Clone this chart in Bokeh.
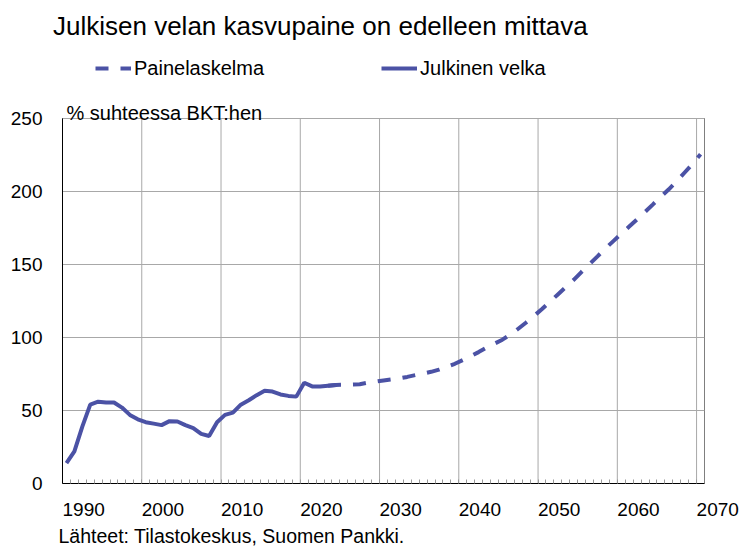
from bokeh.plotting import figure
from bokeh.models import Range1d, FixedTicker, Title, Legend, LegendItem, Label
from bokeh.embed import file_html
from bokeh.resources import INLINE

# ---- texts ----
TITLE = "Julkisen velan kasvupaine on edelleen mittava"
Y_TITLE = "% suhteessa BKT:hen"
SOURCE = "Lähteet: Tilastokeskus, Suomen Pankki."
LEGEND_PROJ = "Painelaskelma"
LEGEND_DEBT = "Julkinen velka"

# ---- data ----
hist_years = list(range(1990, 2025))
hist_debt = [14, 22, 39, 54, 56, 55.5, 55.5, 52, 47, 44,
             42, 41, 40, 42.7, 42.5, 40, 38, 34, 32.5, 42,
             47, 48.5, 54, 57, 60.5, 63.5, 63, 61, 60, 59.5,
             69, 66.5, 66.5, 67, 67.5]

proj_years = list(range(2023, 2071))
proj_debt = [67, 67.5, 67.6, 67.8, 68, 69, 69.8,
             70.6, 71.3, 72, 73, 74.2, 75.3, 76.5, 78, 80, 82,
             84.5, 87.2, 90, 93, 95.8, 98.5, 102, 106, 110.3, 114.8,
             119.5, 124.5, 129.5, 134.5, 139.5, 145, 150.3, 155.6, 161, 166,
             171, 176, 181, 186, 191.2, 196.5, 201.5, 207, 213, 219,
             225.5]

x_tick_years = [1990, 2000, 2010, 2020, 2030, 2040, 2050, 2060, 2070]
x_tick_labels = ["1990", "2000", "2010", "2020", "2030", "2040", "2050", "2060", "2070"]
y_ticks = [0, 50, 100, 150, 200, 250]

FONT = "Liberation Sans"
BLUE = "#4B52A5"
GRID = "#a8a8a8"

# geometry: the plotting box is 365 px tall for 0..250; the frame is extended
# upwards so that legend and unit text sit inside it (not clipped)
BOX_H = 365
FRAME_H = 437
X0, X1 = x_tick_years[0] - 0.5, x_tick_years[-1] + 0.5
Y_MAX = y_ticks[-1]
Y_END = Y_MAX * FRAME_H / BOX_H

p = figure(frame_width=642, frame_height=FRAME_H, output_backend="svg",
           toolbar_location=None, title=None,
           x_range=Range1d(X0, X1), y_range=Range1d(0, Y_END),
           min_border_left=62, min_border_right=36,
           min_border_top=46, min_border_bottom=66)
p.background_fill_color = "white"
p.border_fill_color = "white"
p.outline_line_color = None

# category boundaries (Excel-style category axis); labels start at a boundary
bounds = [yr - 0.5 for yr in x_tick_years]
minor = [yr + 0.5 for yr in range(x_tick_years[0], x_tick_years[-1])]

xa = p.xaxis[0]
xa.ticker = FixedTicker(ticks=bounds, minor_ticks=minor)
xa.major_label_overrides = {t: lab for t, lab in zip(bounds, x_tick_labels)}
xa.major_label_orientation = -0.0001   # numeric angle -> left-aligned labels
xa.major_tick_in = 0
xa.major_tick_out = 0
xa.minor_tick_in = 4
xa.minor_tick_out = 0
xa.minor_tick_line_color = "#999999"
xa.axis_line_color = "black"
xa.major_label_standoff = 26
xa.major_label_text_font = FONT
xa.major_label_text_font_size = "19px"
xa.major_label_text_color = "black"

ya = p.yaxis[0]
ya.ticker = FixedTicker(ticks=y_ticks)
ya.bounds = (0, Y_MAX)
ya.major_tick_in = 0
ya.major_tick_out = 0
ya.minor_tick_line_color = None
ya.axis_line_color = "black"
ya.major_label_standoff = 20
ya.major_label_text_font = FONT
ya.major_label_text_font_size = "19px"
ya.major_label_text_color = "black"

p.xgrid.visible = False
p.ygrid.ticker = FixedTicker(ticks=y_ticks)
p.ygrid.grid_line_color = GRID

# vertical grid lines limited to the plotting box
p.segment(x0=bounds, y0=[0] * len(bounds), x1=bounds, y1=[Y_MAX] * len(bounds),
          line_color=GRID, line_width=1, level="underlay")
# box border (top and right; left/bottom come from the axes)
p.quad(left=[X0], right=[X1], bottom=[0], top=[Y_MAX],
       fill_alpha=0, line_color="black", line_width=1, level="underlay")

r_proj = p.line(proj_years, proj_debt, line_color=BLUE, line_width=4,
                line_dash="13 12")
r_hist = p.line(hist_years, hist_debt, line_color=BLUE, line_width=4)

legend = Legend(items=[LegendItem(label=LEGEND_PROJ, renderers=[r_proj]),
                       LegendItem(label=LEGEND_DEBT, renderers=[r_hist])],
                orientation="horizontal", location=(33, 403),
                glyph_width=36, glyph_height=24, label_height=24,
                label_standoff=3, spacing=117, padding=0, margin=0,
                border_line_alpha=0, background_fill_alpha=0,
                label_text_font=FONT, label_text_font_size="20px",
                label_text_color="black")
p.add_layout(legend)

p.add_layout(Label(x=4, y=370.3, x_units="screen", y_units="screen", text=Y_TITLE,
                   text_font=FONT, text_font_size="20px", text_color="black",
                   text_align="left", text_baseline="alphabetic"))


def make_title(text, size, offset, standoff, valign):
    return Title(text=text, align="left", offset=offset, standoff=standoff,
                 vertical_align=valign, text_font=FONT, text_font_size=size,
                 text_font_style="normal", text_color="black")


p.add_layout(make_title(TITLE, "26px", -9.5, 12, "bottom"), "above")
p.add_layout(make_title(SOURCE, "19.5px", -4, -6, "bottom"), "below")

open("out.html", "w").write(file_html(p, INLINE))
